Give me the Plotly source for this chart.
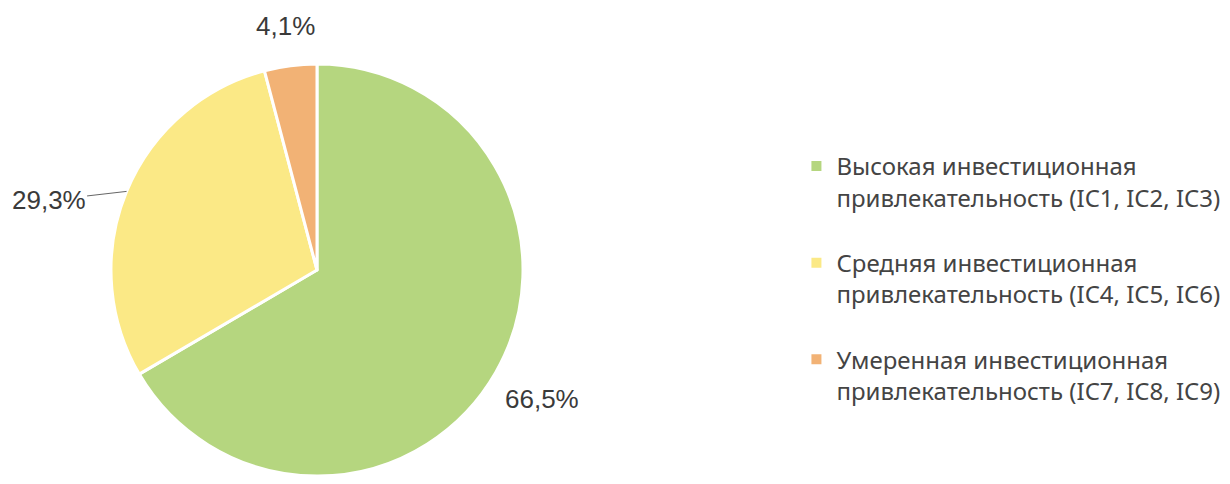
import math
import plotly.graph_objects as go

categories = [
    "Высокая инвестиционная<br>привлекательность (IC1, IC2, IC3)",
    "Средняя инвестиционная<br>привлекательность (IC4, IC5, IC6)",
    "Умеренная инвестиционная<br>привлекательность (IC7, IC8, IC9)",
]
values = [66.5, 29.3, 4.1]
value_labels = ["66,5%", "29,3%", "4,1%"]
colors = ["#b5d67f", "#fbe986", "#f2b275"]

W, H = 1230, 484
cx, cy, r = 309, 262, 206  # pie centre / radius in figure pixels

fig = go.Figure(go.Pie(
    labels=[c + "<br> " for c in categories],
    values=values,
    text=value_labels,
    textinfo="none",
    sort=False,
    direction="clockwise",
    rotation=0,
    marker=dict(colors=colors, line=dict(color="white", width=3)),
    domain=dict(x=[(cx - r) / W, (cx + r) / W], y=[(H - cy - r) / H, (H - cy + r) / H]),
    hoverinfo="label+text",
))

# value labels placed around the pie from the slice mid-angles
total = sum(values)
cum = 0
label_font = dict(family="Liberation Sans, Arial", size=26, color="#3a3a3a")
for v, t in zip(values, value_labels):
    mid = (cum + v / 2) / total * 2 * math.pi  # clockwise from 12 o'clock
    cum += v
    dx, dy = math.sin(mid), math.cos(mid)
    if abs(dx) > 0.9:
        # horizontal label with a leader line from the slice edge
        ex, ey = cx + dx * r, cy - dy * r
        fig.add_annotation(
            x=ex / W, y=1 - ey / H, xref="paper", yref="paper",
            text=t, showarrow=True, arrowhead=0, arrowwidth=1, arrowcolor="#666666",
            ax=-78 if dx < 0 else 78, ay=9, font=label_font,
            xanchor="center", yanchor="middle",
        )
    else:
        k = 1.26 if dy < 0 else 1.195
        lx, ly = cx + dx * r * k, cy - dy * r * k
        fig.add_annotation(
            x=lx / W, y=1 - ly / H, xref="paper", yref="paper",
            text=t, showarrow=False, font=label_font,
            xanchor="center", yanchor="middle",
        )

fig.update_layout(
    width=W, height=H,
    margin=dict(l=0, r=0, t=0, b=0),
    paper_bgcolor="white",
    plot_bgcolor="white",
    showlegend=True,
    legend=dict(
        x=0.641, y=1 - 136 / H, xanchor="left", yanchor="top",
        font=dict(family="Noto Sans", size=24, color="#444444"),
        itemsizing="constant",
        valign="top",
        itemwidth=30,
    ),
)

fig.write_html("out.html")
